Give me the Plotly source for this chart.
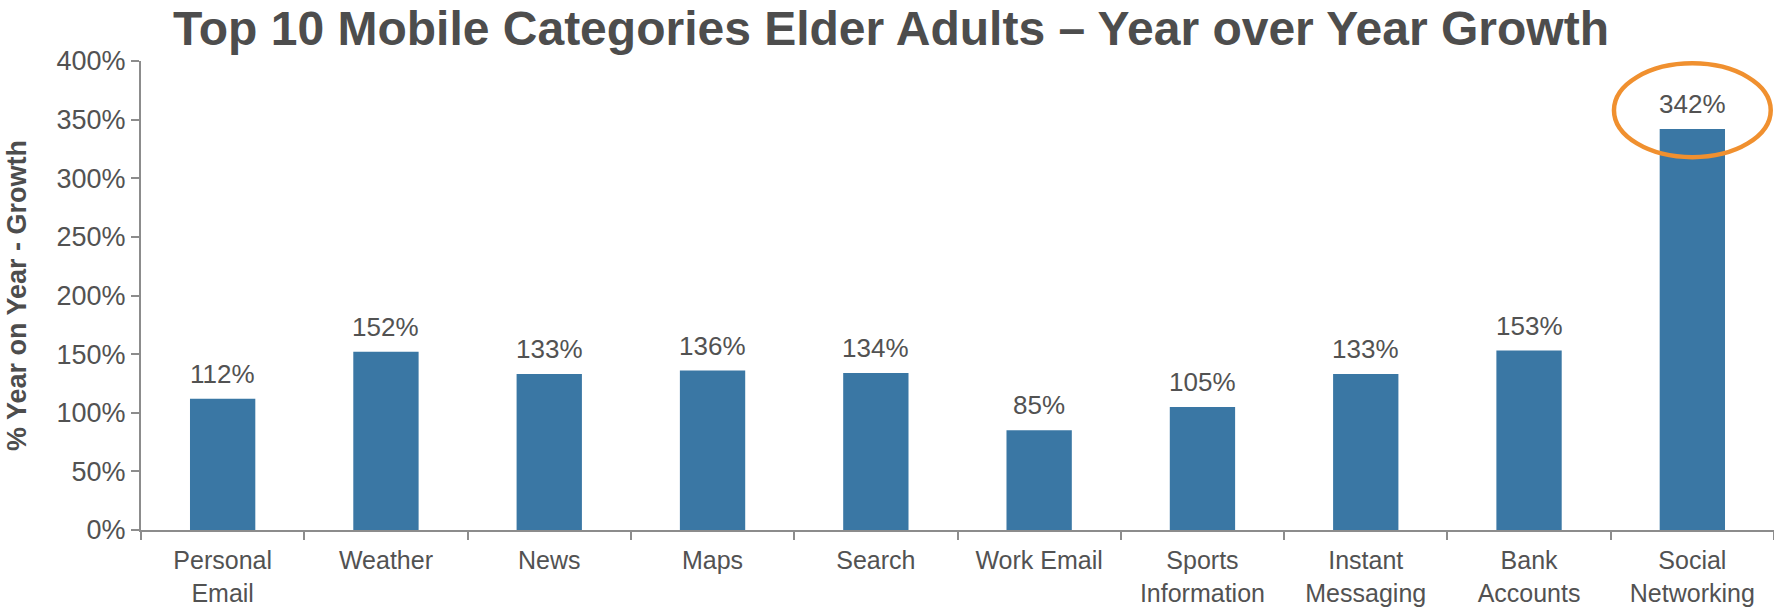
import plotly.graph_objects as go

categories = [
    "Personal<br>Email", "Weather", "News", "Maps", "Search",
    "Work Email", "Sports<br>Information", "Instant<br>Messaging",
    "Bank<br>Accounts", "Social<br>Networking",
]
growth_pct = [112, 152, 133, 136, 134, 85, 105, 133, 153, 342]
y_ticks = [0, 50, 100, 150, 200, 250, 300, 350, 400]
y_tick_labels = [f"{v}%" for v in y_ticks]

BAR_COLOR = "#3a77a4"
TEXT_COLOR = "#525252"
AXIS_COLOR = "#8c8c8c"
FONT = "Liberation Sans, Arial, Helvetica, sans-serif"
HEIGHT = 607

fig = go.Figure()
fig.add_trace(go.Bar(
    x=categories,
    y=growth_pct,
    marker=dict(color=BAR_COLOR, line=dict(width=0)),
    hoverinfo="skip",
))

# value labels floating above each bar
for cat, val in zip(categories, growth_pct):
    fig.add_annotation(
        x=cat, y=val, text=f"{val}%", showarrow=False,
        yanchor="bottom", yshift=8,
        font=dict(family=FONT, size=26, color=TEXT_COLOR),
    )

# highlight ring around the largest value
top_idx = growth_pct.index(max(growth_pct))
fig.add_shape(
    type="circle", xref="x", yref="y",
    x0=top_idx - 0.48, x1=top_idx + 0.48, y0=318, y1=398,
    line=dict(color="#f0902f", width=4.5), fillcolor="rgba(0,0,0,0)",
    layer="above",
)

fig.update_layout(
    width=1774, height=HEIGHT,
    margin=dict(l=141, r=0, t=61, b=77),
    paper_bgcolor="white", plot_bgcolor="white",
    showlegend=False,
    bargap=0.6,
    font=dict(family=FONT, color=TEXT_COLOR),
    title=dict(
        text="<b>Top 10 Mobile Categories Elder Adults – Year over Year Growth</b>",
        x=891 / 1774, xref="container", xanchor="center",
        y=1 - 28 / HEIGHT, yref="container", yanchor="middle",
        font=dict(family=FONT, size=48, color="#4d4d4d"),
    ),
    xaxis=dict(
        automargin=False,
        showline=True, linecolor=AXIS_COLOR, linewidth=2,
        ticks="outside", tickson="boundaries", ticklen=8,
        tickcolor=AXIS_COLOR, tickwidth=2,
        ticklabelstandoff=7,
        tickfont=dict(family=FONT, size=25, color=TEXT_COLOR),
        showgrid=False, zeroline=False,
    ),
    yaxis=dict(
        automargin=False,
        range=[0, 400], tickvals=y_ticks, ticktext=y_tick_labels,
        showline=True, linecolor=AXIS_COLOR, linewidth=2,
        ticks="outside", ticklen=8, tickcolor=AXIS_COLOR, tickwidth=2,
        tickfont=dict(family=FONT, size=27, color=TEXT_COLOR),
        showgrid=False, zeroline=False,
        title=dict(text="<b>% Year on Year - Growth</b>", standoff=22,
                   font=dict(family=FONT, size=27, color="#4d4d4d")),
    ),
)

fig.write_html("out.html")
